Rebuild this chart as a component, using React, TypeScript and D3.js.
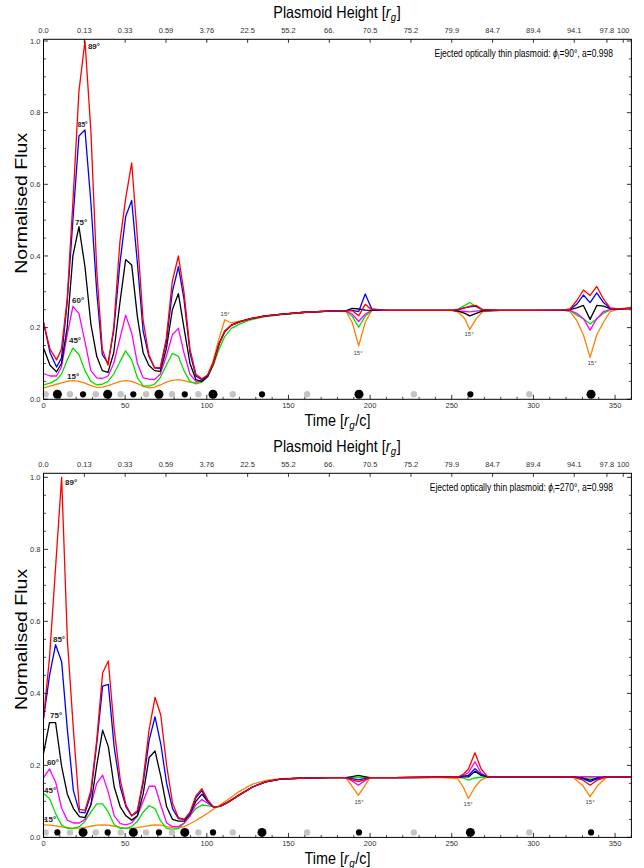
import React from 'react';
import * as d3 from 'd3';

// ---------------- data ----------------
const topTimes = [0, 4, 8, 11, 14.5, 18, 21.7, 25.4, 29, 32.6,
  36, 39.5, 43, 46.8, 50.3, 54, 57.5, 61, 64.5, 68,
  71.5, 75.2, 78.9, 82.6, 86, 89.7, 93.3, 97, 100.5, 104,
  107.5, 111, 115, 120, 127, 135, 145, 160, 175, 185,
  189, 193, 197, 201, 210, 230, 250, 254, 258, 261,
  265, 269, 280, 300, 318, 322.4, 326.5, 330.6, 334.7, 338.8,
  342.9, 347, 352, 360];

const topRed = [0.215, 0.14, 0.11, 0.14, 0.28, 0.55, 0.86, 1.0, 0.75, 0.36,
  0.14, 0.095, 0.2, 0.44, 0.56, 0.66, 0.45, 0.22, 0.125, 0.088,
  0.088, 0.17, 0.33, 0.40, 0.30, 0.14, 0.07, 0.057, 0.068, 0.1,
  0.155, 0.19, 0.207, 0.216, 0.225, 0.232, 0.237, 0.243, 0.246, 0.247,
  0.248, 0.233, 0.265, 0.25, 0.248, 0.248, 0.248, 0.25, 0.255, 0.26,
  0.262, 0.25, 0.248, 0.248, 0.249, 0.252, 0.275, 0.305, 0.29, 0.315,
  0.28, 0.255, 0.252, 0.254];
const topBlue = [0.215, 0.13, 0.09, 0.115, 0.27, 0.5, 0.735, 0.752, 0.55, 0.3,
  0.125, 0.1, 0.19, 0.38, 0.51, 0.555, 0.38, 0.19, 0.12, 0.088,
  0.086, 0.16, 0.3, 0.37, 0.28, 0.13, 0.065, 0.055, 0.066, 0.1,
  0.155, 0.19, 0.207, 0.216, 0.225, 0.232, 0.237, 0.243, 0.246, 0.247,
  0.248, 0.245, 0.294, 0.252, 0.248, 0.248, 0.248, 0.25, 0.256, 0.258,
  0.26, 0.25, 0.248, 0.248, 0.249, 0.251, 0.265, 0.291, 0.27, 0.297,
  0.27, 0.254, 0.252, 0.254];
const topBlack = [0.143, 0.095, 0.077, 0.1, 0.2, 0.4, 0.482, 0.37, 0.21, 0.12,
  0.08, 0.075, 0.13, 0.27, 0.39, 0.375, 0.23, 0.13, 0.095, 0.08,
  0.078, 0.14, 0.25, 0.295, 0.2, 0.1, 0.055, 0.05, 0.064, 0.1,
  0.155, 0.19, 0.207, 0.216, 0.225, 0.232, 0.237, 0.243, 0.246, 0.247,
  0.254, 0.252, 0.249, 0.248, 0.248, 0.248, 0.248, 0.246, 0.24, 0.233,
  0.24, 0.247, 0.248, 0.248, 0.249, 0.25, 0.255, 0.262, 0.223, 0.262,
  0.26, 0.253, 0.252, 0.254];
const topMagenta = [0.072, 0.065, 0.065, 0.09, 0.18, 0.259, 0.24, 0.16, 0.08, 0.06,
  0.058, 0.065, 0.1, 0.17, 0.235, 0.185, 0.1, 0.06, 0.056, 0.055,
  0.07, 0.12, 0.18, 0.198, 0.13, 0.07, 0.05, 0.05, 0.064, 0.1,
  0.153, 0.188, 0.206, 0.216, 0.225, 0.232, 0.237, 0.243, 0.246, 0.247,
  0.238, 0.217, 0.238, 0.248, 0.248, 0.248, 0.248, 0.247, 0.245, 0.244,
  0.246, 0.248, 0.248, 0.248, 0.249, 0.248, 0.24, 0.225, 0.193, 0.225,
  0.245, 0.25, 0.252, 0.254];
const topGreen = [0.04, 0.045, 0.055, 0.07, 0.11, 0.143, 0.125, 0.08, 0.05, 0.04,
  0.042, 0.05, 0.07, 0.105, 0.135, 0.11, 0.06, 0.038, 0.037, 0.042,
  0.06, 0.095, 0.128, 0.12, 0.08, 0.05, 0.043, 0.048, 0.062, 0.095,
  0.14, 0.175, 0.198, 0.21, 0.222, 0.23, 0.236, 0.242, 0.246, 0.247,
  0.232, 0.201, 0.232, 0.248, 0.248, 0.248, 0.248, 0.252, 0.262, 0.27,
  0.258, 0.249, 0.248, 0.248, 0.249, 0.247, 0.235, 0.225, 0.21, 0.225,
  0.24, 0.25, 0.252, 0.254];
const topOrange = [0.032, 0.037, 0.042, 0.046, 0.05, 0.052, 0.05, 0.045, 0.038, 0.033,
  0.034, 0.038, 0.044, 0.05, 0.052, 0.05, 0.044, 0.036, 0.032, 0.034,
  0.04, 0.048, 0.053, 0.055, 0.052, 0.048, 0.046, 0.052, 0.068, 0.11,
  0.17, 0.222, 0.213, 0.218, 0.226, 0.233, 0.238, 0.243, 0.246, 0.247,
  0.215, 0.149, 0.215, 0.248, 0.248, 0.248, 0.248, 0.243, 0.225, 0.195,
  0.225, 0.245, 0.248, 0.248, 0.249, 0.245, 0.22, 0.18, 0.117, 0.18,
  0.215, 0.245, 0.252, 0.257];

const bottomTimes = [0, 3.7, 7.4, 11.1, 14.6, 18.3, 22, 25.4, 29, 32.6,
  36.2, 39.7, 43.3, 47, 50.5, 54, 57.5, 61, 64.7, 68.3,
  71.8, 75.4, 79, 82.6, 86.2, 89.7, 93.3, 97, 100.5, 104,
  108, 113, 120, 128, 136, 145, 160, 175, 185, 189,
  192.8, 196.5, 200, 215, 240, 253.5, 257, 260.2, 264.2, 268,
  272, 285, 310, 324, 330, 334.7, 339.5, 345, 352, 360];

const bottomRed = [0.33, 0.5, 0.75, 1.0, 0.55, 0.3, 0.078, 0.075, 0.13, 0.27,
  0.457, 0.49, 0.3, 0.16, 0.09, 0.06, 0.075, 0.16, 0.3, 0.389,
  0.34, 0.2, 0.095, 0.055, 0.05, 0.07, 0.115, 0.135, 0.105, 0.085,
  0.086, 0.098, 0.118, 0.14, 0.154, 0.162, 0.165, 0.166, 0.166, 0.16,
  0.155, 0.16, 0.166, 0.166, 0.167, 0.167, 0.175, 0.19, 0.235, 0.19,
  0.168, 0.168, 0.168, 0.168, 0.16, 0.145, 0.16, 0.168, 0.168, 0.168];
const bottomBlue = [0.33, 0.45, 0.535, 0.488, 0.3, 0.13, 0.07, 0.068, 0.12, 0.26,
  0.42, 0.425, 0.25, 0.14, 0.085, 0.06, 0.07, 0.15, 0.27, 0.335,
  0.26, 0.15, 0.08, 0.052, 0.05, 0.065, 0.11, 0.13, 0.1, 0.085,
  0.086, 0.098, 0.118, 0.14, 0.154, 0.162, 0.165, 0.166, 0.166, 0.163,
  0.16, 0.163, 0.166, 0.166, 0.167, 0.167, 0.17, 0.172, 0.191, 0.175,
  0.168, 0.168, 0.168, 0.168, 0.163, 0.155, 0.163, 0.168, 0.168, 0.168];
const bottomBlack = [0.233, 0.319, 0.319, 0.197, 0.12, 0.08, 0.058, 0.055, 0.09, 0.2,
  0.298, 0.252, 0.14, 0.085, 0.06, 0.048, 0.06, 0.12, 0.222, 0.24,
  0.17, 0.085, 0.05, 0.045, 0.045, 0.065, 0.1, 0.12, 0.1, 0.085,
  0.086, 0.098, 0.118, 0.14, 0.154, 0.162, 0.165, 0.166, 0.166, 0.169,
  0.172, 0.169, 0.166, 0.166, 0.167, 0.167, 0.168, 0.168, 0.184, 0.172,
  0.168, 0.168, 0.168, 0.168, 0.165, 0.159, 0.165, 0.168, 0.168, 0.168];
const bottomMagenta = [0.165, 0.19, 0.154, 0.081, 0.048, 0.04, 0.04, 0.05, 0.09, 0.15,
  0.173, 0.125, 0.06, 0.038, 0.035, 0.04, 0.06, 0.1, 0.142, 0.142,
  0.09, 0.04, 0.03, 0.03, 0.04, 0.06, 0.09, 0.105, 0.095, 0.085,
  0.086, 0.098, 0.118, 0.14, 0.154, 0.162, 0.165, 0.166, 0.166, 0.157,
  0.145, 0.157, 0.166, 0.166, 0.167, 0.167, 0.172, 0.18, 0.21, 0.178,
  0.168, 0.168, 0.168, 0.168, 0.169, 0.169, 0.169, 0.168, 0.168, 0.168];
const bottomGreen = [0.122, 0.108, 0.066, 0.034, 0.025, 0.025, 0.03, 0.045, 0.07, 0.093,
  0.093, 0.07, 0.035, 0.025, 0.025, 0.03, 0.045, 0.07, 0.088, 0.08,
  0.045, 0.025, 0.022, 0.025, 0.04, 0.06, 0.08, 0.09, 0.088, 0.085,
  0.086, 0.098, 0.118, 0.14, 0.154, 0.162, 0.165, 0.166, 0.166, 0.166,
  0.167, 0.166, 0.166, 0.166, 0.167, 0.167, 0.165, 0.159, 0.165, 0.167,
  0.168, 0.168, 0.168, 0.168, 0.166, 0.165, 0.166, 0.168, 0.168, 0.168];
const bottomOrange = [0.035, 0.034, 0.032, 0.029, 0.027, 0.025, 0.026, 0.028, 0.031, 0.034,
  0.035, 0.034, 0.031, 0.028, 0.026, 0.025, 0.027, 0.03, 0.033, 0.035,
  0.034, 0.03, 0.027, 0.026, 0.03, 0.038, 0.047, 0.057, 0.067, 0.078,
  0.09, 0.105, 0.128, 0.148, 0.158, 0.163, 0.165, 0.166, 0.166, 0.142,
  0.117, 0.142, 0.166, 0.166, 0.167, 0.163, 0.14, 0.108, 0.14, 0.16,
  0.168, 0.168, 0.168, 0.168, 0.145, 0.113, 0.145, 0.168, 0.168, 0.168];

// plasmoid position markers along the time axis
const dotTimes = [1.3, 8.5, 16.2, 24.2, 32, 39.3, 47.3, 55, 62.8, 70.7, 78.7,
  86.5, 94.8, 103.8, 115.9, 133.8, 161.4, 193.2, 226.8, 261.4, 297.5, 335.3];
const topDotKinds = ['g', 'L', 'g', 'S', 'g', 'L', 'g', 'S', 'g', 'L', 'g',
  'S', 'g', 'L', 'g', 'S', 'g', 'L', 'g', 'S', 'g', 'L'];
const bottomDotKinds = ['g', 'S', 'g', 'L', 'g', 'S', 'g', 'L', 'g', 'S', 'g',
  'L', 'g', 'S', 'g', 'L', 'g', 'S', 'g', 'L', 'g', 'S'];

const heightTickTimes = [0, 25, 50, 75, 100, 125, 150, 175, 200, 225, 250, 275, 300, 325, 345, 355];
const heightTickLabels = ['0.0', '0.13', '0.33', '0.59', '3.76', '22.5', '55.2', '66.', '70.5',
  '75.2', '79.9', '84.7', '89.4', '94.1', '97.8', '100'];
const timeTicks = [0, 50, 100, 150, 200, 250, 300, 350];
const fluxTicks = [0, 0.2, 0.4, 0.6, 0.8, 1.0];

const angleNames = ['15°', '45°', '60°', '75°', '85°', '89°'];
const angleColors = ['#ff8000', '#00e000', '#ff00ff', '#000000', '#0000ff', '#ff0000'];

// label anchors in data coords: [time, flux]
const topAngleLabelPos = [[14.4, 0.057], [15.6, 0.157], [17.5, 0.269], [19.3, 0.487], [21, 0.76], [27.2, 0.978]];
const bottomAngleLabelPos = [[0.3, 0.043], [0.3, 0.122], [2.1, 0.2], [4, 0.331], [5.8, 0.542], [13.2, 0.98]];
const topSmallLabelPos = [[111.2, 0.232], [192.6, 0.124], [260.6, 0.177], [335.9, 0.096]];
const bottomSmallLabelPos = [[193.2, 0.094], [260, 0.086], [334.7, 0.0925]];

// ---------------- layout ----------------
const PLOT_LEFT = 43.5;
const PLOT_RIGHT = 631.4;
const FONT = "'Liberation Sans', Arial, Helvetica, sans-serif";

type PanelProps = {
  frameTop: number;
  y0: number;
  y1: number;
  times: number[];
  series: number[][];
  dotKinds: string[];
  phi: string;
  angleLabelPos: number[][];
  smallLabelPos: number[][];
};

function Panel(p: PanelProps) {
  const x = d3.scaleLinear().domain([0, 360]).range([PLOT_LEFT, PLOT_RIGHT]);
  const y = d3.scaleLinear().domain([0, 1]).range([p.y0, p.y1]);
  const frameBottom = p.y0;
  const line = d3.line<number>()
    .x((_, i) => x(p.times[i]))
    .y((d) => y(d));

  const minorY = d3.range(0, 1.0001, 0.05).filter((v) => Math.abs(v * 5 - Math.round(v * 5)) > 1e-6);
  const minorX = d3.range(0, 360.001, 10).filter((v) => v % 50 !== 0);
  const midY = (p.frameTop + frameBottom) / 2 - 16;

  return (
    <g>
      {/* curves */}
      {p.series.map((s, i) => (
        <path key={i} d={line(s) || ''} fill="none" stroke={angleColors[i]} strokeWidth={1.3}
          strokeLinejoin="round" />
      ))}
      {/* position dots */}
      {dotTimes.map((t, i) => {
        const k = p.dotKinds[i];
        const r = k === 'L' ? 4.5 : k === 'S' ? 3.1 : 3.2;
        return <circle key={i} cx={x(t)} cy={y(0) - 5} r={r} fill={k === 'g' ? '#c4c4c4' : '#000'} />;
      })}
      {/* frame */}
      <rect x={PLOT_LEFT} y={p.frameTop} width={PLOT_RIGHT - PLOT_LEFT} height={frameBottom - p.frameTop}
        fill="none" stroke="#000" strokeWidth={1} />
      {/* left / right ticks */}
      {fluxTicks.map((v, i) => (
        <g key={'fy' + i}>
          <line x1={PLOT_LEFT} x2={PLOT_LEFT + 4.5} y1={y(v)} y2={y(v)} stroke="#000" strokeWidth={0.8} />
          <line x1={PLOT_RIGHT} x2={PLOT_RIGHT - 4.5} y1={y(v)} y2={y(v)} stroke="#000" strokeWidth={0.8} />
          <text x={PLOT_LEFT - 3} y={y(v) + 2.6} fontSize={7.5} textAnchor="end" fill="#333">{v.toFixed(1)}</text>
        </g>
      ))}
      {minorY.map((v, i) => (
        <g key={'my' + i}>
          <line x1={PLOT_LEFT} x2={PLOT_LEFT + 2.5} y1={y(v)} y2={y(v)} stroke="#000" strokeWidth={0.7} />
          <line x1={PLOT_RIGHT} x2={PLOT_RIGHT - 2.5} y1={y(v)} y2={y(v)} stroke="#000" strokeWidth={0.7} />
        </g>
      ))}
      {/* bottom ticks */}
      {timeTicks.map((t, i) => (
        <g key={'tx' + i}>
          <line x1={x(t)} x2={x(t)} y1={frameBottom} y2={frameBottom - 4.5} stroke="#000" strokeWidth={0.8} />
          <text x={x(t)} y={frameBottom + 8.5} fontSize={7.5} textAnchor="middle" fill="#333">{t}</text>
        </g>
      ))}
      {minorX.map((t, i) => (
        <line key={'mx' + i} x1={x(t)} x2={x(t)} y1={frameBottom} y2={frameBottom - 2.5} stroke="#000" strokeWidth={0.7} />
      ))}
      {/* top ticks: plasmoid height */}
      {heightTickTimes.map((t, i) => (
        <g key={'hx' + i}>
          <line x1={x(t)} x2={x(t)} y1={p.frameTop} y2={p.frameTop + 3.5} stroke="#000" strokeWidth={0.8} />
          <text x={x(t)} y={p.frameTop - 6} fontSize={7.5} textAnchor="middle" fill="#333">{heightTickLabels[i]}</text>
        </g>
      ))}
      {/* axis titles */}
      <g transform={`translate(337,${p.frameTop - 21}) scale(0.87,1)`}>
        <text x={0} y={0} fontSize={16.5} textAnchor="middle" fill="#000">
          Plasmoid Height [<tspan fontStyle="italic">r</tspan><tspan fontStyle="italic" fontSize={11} dy={3} dx={0.3}>g</tspan><tspan dy={-3} dx={0.6}>]</tspan>
        </text>
      </g>
      <g transform={`translate(337.5,${frameBottom + 26.5}) scale(0.9,1)`}>
        <text x={0} y={0} fontSize={16} textAnchor="middle" fill="#000">
          Time [<tspan fontStyle="italic">r</tspan><tspan fontStyle="italic" fontSize={11} dy={3} dx={0.3}>g</tspan><tspan dy={-3} dx={0.6}>/c]</tspan>
        </text>
      </g>
      <g transform={`translate(27,${midY}) rotate(-90) scale(1.15,1)`}>
        <text x={0} y={0} fontSize={17} textAnchor="middle" fill="#000">Normalised Flux</text>
      </g>
      {/* annotation */}
      <g transform={`translate(613,${p.frameTop + 18}) scale(0.85,1)`}>
        <text x={0} y={0} fontSize={10} textAnchor="end" fill="#000">
          Ejected optically thin plasmoid: <tspan fontStyle="italic">ϕ</tspan><tspan fontSize={6.5} dy={2} dx={0.3}>i</tspan><tspan dy={-2} dx={0.5}>={p.phi}°, a=0.998</tspan>
        </text>
      </g>
      {/* angle labels */}
      {p.angleLabelPos.map((pos, i) => (
        <text key={'al' + i} x={x(pos[0])} y={y(pos[1])} fontSize={i === 4 && p.phi === '90' ? 6.5 : 8}
          fontWeight="bold" fill="#222">{angleNames[i]}</text>
      ))}
      {p.smallLabelPos.map((pos, i) => (
        <text key={'sl' + i} x={x(pos[0])} y={y(pos[1])} fontSize={6} textAnchor="middle" fill="#444">15°</text>
      ))}
    </g>
  );
}

export default function App() {
  return (
    <svg width={644} height={868} style={{ position: 'absolute', left: 0, top: 0, background: '#fff' }}
      fontFamily={FONT}>
      <rect width={644} height={868} fill="#fff" />
      <Panel frameTop={39.3} y0={399.3} y1={41} times={topTimes}
        series={[topOrange, topGreen, topMagenta, topBlack, topBlue, topRed]}
        dotKinds={topDotKinds} phi="90" angleLabelPos={topAngleLabelPos} smallLabelPos={topSmallLabelPos} />
      <Panel frameTop={473.3} y0={837.4} y1={477.3} times={bottomTimes}
        series={[bottomOrange, bottomGreen, bottomMagenta, bottomBlack, bottomBlue, bottomRed]}
        dotKinds={bottomDotKinds} phi="270" angleLabelPos={bottomAngleLabelPos} smallLabelPos={bottomSmallLabelPos} />
    </svg>
  );
}
